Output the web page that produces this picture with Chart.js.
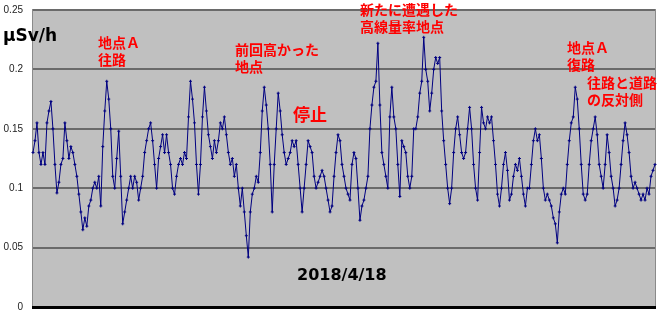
<!DOCTYPE html>
<html>
<head>
<meta charset="utf-8">
<script src="https://cdn.jsdelivr.net/npm/chart.js@4"></script>
<style>
  html, body { margin: 0; padding: 0; background: #fff; overflow: hidden; }
  canvas { display: block; }
</style>
</head>
<body>
<canvas id="chart" width="660" height="312"></canvas>
<script>
// dose readings, µSv/h, one every ~2px along the route
var readings = [
    0.13, 0.14, 0.155, 0.13, 0.12,
    0.13, 0.12, 0.155, 0.165, 0.173,
    0.15, 0.12, 0.096, 0.105, 0.12,
    0.125, 0.155, 0.14, 0.125, 0.135,
    0.13, 0.12, 0.11, 0.095, 0.08,
    0.065, 0.075, 0.068, 0.085, 0.09,
    0.1, 0.105, 0.1, 0.11, 0.085,
    0.135, 0.165, 0.19, 0.175, 0.15,
    0.11, 0.1, 0.125, 0.148, 0.11,
    0.07, 0.08, 0.09, 0.1, 0.11,
    0.1, 0.11, 0.105, 0.09, 0.1,
    0.11, 0.13, 0.14, 0.15, 0.155,
    0.14, 0.12, 0.1, 0.125, 0.135,
    0.145, 0.13, 0.145, 0.13, 0.12,
    0.1, 0.095, 0.11, 0.12, 0.125,
    0.12, 0.13, 0.125, 0.16, 0.19,
    0.175, 0.155, 0.12, 0.095, 0.12,
    0.16, 0.185, 0.165, 0.145, 0.135,
    0.125, 0.14, 0.13, 0.14, 0.155,
    0.15, 0.16, 0.145, 0.13, 0.12,
    0.125, 0.11, 0.12, 0.1, 0.085,
    0.1, 0.08, 0.06, 0.042, 0.08,
    0.095, 0.1, 0.11, 0.105, 0.13,
    0.165, 0.185, 0.17, 0.15, 0.12,
    0.08, 0.12, 0.15, 0.18, 0.165,
    0.145, 0.13, 0.12, 0.125, 0.13,
    0.14, 0.135, 0.14, 0.12, 0.1,
    0.08, 0.1, 0.12, 0.14, 0.135,
    0.13, 0.11, 0.1, 0.105, 0.11,
    0.115, 0.11, 0.1, 0.09, 0.08,
    0.085, 0.11, 0.13, 0.145, 0.14,
    0.12, 0.11, 0.1, 0.095, 0.09,
    0.12, 0.13, 0.125, 0.1, 0.073,
    0.085, 0.09, 0.1, 0.11, 0.15,
    0.17, 0.185, 0.19, 0.222, 0.17,
    0.13, 0.12, 0.11, 0.1, 0.16,
    0.185, 0.16, 0.15, 0.12, 0.093,
    0.14, 0.135, 0.13, 0.11, 0.1,
    0.11, 0.15, 0.15, 0.16, 0.18,
    0.19, 0.227, 0.2, 0.19, 0.165,
    0.18, 0.2, 0.21, 0.205, 0.21,
    0.165, 0.14, 0.12, 0.1, 0.087,
    0.1, 0.13, 0.15, 0.16, 0.145,
    0.13, 0.125, 0.13, 0.15, 0.168,
    0.15, 0.12, 0.1, 0.09, 0.13,
    0.168, 0.155, 0.15, 0.16, 0.155,
    0.16, 0.14, 0.12, 0.095, 0.085,
    0.1, 0.12, 0.13, 0.115, 0.09,
    0.095, 0.11, 0.12, 0.115, 0.125,
    0.11, 0.095, 0.085, 0.1, 0.1,
    0.12, 0.14, 0.15, 0.14, 0.145,
    0.125, 0.1, 0.09, 0.095, 0.09,
    0.085, 0.075, 0.07, 0.054, 0.08,
    0.095, 0.1, 0.095, 0.12, 0.14,
    0.155, 0.16, 0.185, 0.175, 0.15,
    0.12, 0.095, 0.09, 0.095, 0.12,
    0.14, 0.15, 0.16, 0.145, 0.12,
    0.11, 0.1, 0.12, 0.145, 0.13,
    0.11, 0.1, 0.085, 0.09, 0.1,
    0.12, 0.14, 0.155, 0.145, 0.13,
    0.11, 0.1, 0.105, 0.1, 0.095,
    0.09, 0.095, 0.09, 0.1, 0.095,
    0.11, 0.115, 0.12
];
var yTicks = [0, 0.05, 0.1, 0.15, 0.2, 0.25];
var unitLabel = "μSv/h";
var dateLabel = "2018/4/18";
var notes = [
    { lines: ["地点Ａ", "往路"], x: 98, y: 36 },
    { lines: ["前回高かった", "地点"], x: 235, y: 43 },
    { lines: ["新たに遭遇した", "高線量率地点"], x: 360, y: 3 },
    { lines: ["地点Ａ", "復路"], x: 567, y: 41 },
    { lines: ["往路と道路", "の反対側"], x: 587, y: 76 }
];

var labels = readings.map(function (v, i) { return i; });

var decor = {
    id: "decor",
    beforeDraw: function (chart) {
        var c = chart.ctx, a = chart.chartArea;
        c.save();
        c.fillStyle = "#c0c0c0";
        c.fillRect(a.left, a.top, a.right - a.left, a.bottom - a.top);
        c.strokeStyle = "#8a8a8a";
        c.lineWidth = 1;
        c.strokeRect(a.left - 0.5, a.top - 0.5, a.right - a.left + 1, a.bottom - a.top);
        c.restore();
    },
    afterDraw: function (chart) {
        var c = chart.ctx, a = chart.chartArea;
        c.save();
        // axis line
        c.fillStyle = "#000";
        c.fillRect(a.left - 1, a.bottom - 1, a.right - a.left + 2, 3);
        c.textBaseline = "top";
        c.fillStyle = "#ff0000";
        c.font = "bold 14px 'Noto Sans CJK JP'";
        notes.forEach(function (n) {
            n.lines.forEach(function (t, i) {
                c.fillText(t, n.x, n.y + i * 17);
            });
        });
        c.font = "bold 17px 'Noto Sans CJK JP'";
        c.fillText("停止", 293, 106);
        c.fillStyle = "#000";
        c.font = "bold 17px 'DejaVu Sans'";
        c.fillText(unitLabel, 3, 28);
        c.font = "bold 16px 'DejaVu Sans'";
        c.fillText(dateLabel, 297, 268);
        c.restore();
    }
};

var chart = new Chart(document.getElementById("chart"), {
    type: "line",
    data: {
        labels: labels,
        datasets: [
            {
                data: readings,
                borderColor: "#000080",
                borderWidth: 1,
                pointStyle: "cross",
                pointRadius: 1.5,
                pointBorderWidth: 1,
                pointBorderColor: "#000080",
                tension: 0,
            },
        ],
    },
    options: {
        responsive: false,
        animation: false,
        layout: { padding: { top: 10, right: 3, bottom: 0, left: 0 } },
        scales: {
            x: {
                display: false,
                offset: false,
            },
            y: {
                min: 0,
                max: 0.25,
                afterBuildTicks: function (s) {
                    s.ticks = yTicks.map(function (v) { return { value: v }; });
                },
                afterFit: function (s) { s.width = 33; },
                grid: {
                    color: "#6a6a6a",
                    lineWidth: 2,
                    drawTicks: true,
                    tickLength: 10,
                    tickColor: "rgba(0,0,0,0)",
                },
                border: { display: false },
                ticks: {
                    padding: 0,
                    color: "#222",
                    font: { family: "'Liberation Sans'", size: 10, lineHeight: 1 },
                    callback: function (v) { return String(Number(v.toFixed(2))); },
                },
            },
        },
        plugins: {
            legend: { display: false },
            tooltip: { enabled: false },
        },
    },
    plugins: [decor],
});
</script>
</body>
</html>
